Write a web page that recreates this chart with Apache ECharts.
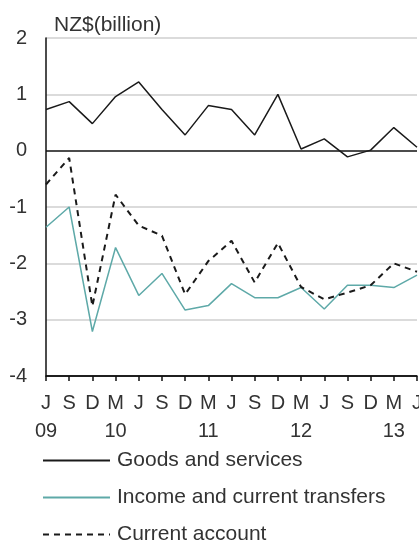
<!DOCTYPE html>
<html>
<head>
<meta charset="utf-8">
<script src="https://cdn.jsdelivr.net/npm/echarts@6/dist/echarts.min.js"></script>
<style>
  html, body { margin: 0; padding: 0; background: #fff; }
  #chart { width: 419px; height: 542px; }
</style>
</head>
<body>
<div id="chart"></div>
<script>
// Quarterly balance components, NZ$ billion, June 2009 to June 2013
const months = ['J', 'S', 'D', 'M', 'J', 'S', 'D', 'M', 'J', 'S', 'D', 'M', 'J', 'S', 'D', 'M', 'J'];
const years  = ['09', '', '', '10', '', '', '', '11', '', '', '', '12', '', '', '', '13', ''];
const goodsAndServices = [0.73, 0.87, 0.48, 0.96, 1.22, 0.73, 0.28, 0.80, 0.73, 0.28, 1.00, 0.03, 0.21, -0.11, 0.01, 0.41, 0.06];
const incomeAndTransfers = [-1.36, -1.00, -3.21, -1.72, -2.57, -2.18, -2.83, -2.75, -2.36, -2.61, -2.61, -2.43, -2.81, -2.39, -2.39, -2.43, -2.21];
const currentAccount = [-0.60, -0.13, -2.76, -0.78, -1.33, -1.51, -2.55, -1.96, -1.60, -2.34, -1.64, -2.42, -2.64, -2.52, -2.39, -2.00, -2.15];
const yTicks = { min: -4, max: 2, step: 1 };

const categories = months.map((m, i) => i);
const font = 'Liberation Sans, Arial, sans-serif';

const chart = echarts.init(document.getElementById('chart'), null, { renderer: 'canvas' });
chart.setOption({
  animation: false,
  backgroundColor: '#ffffff',
  textStyle: { fontFamily: font },
  title: {
    text: 'NZ$(billion)',
    left: 54,
    top: 15,
    padding: 0,
    textStyle: { fontFamily: font, fontSize: 21, fontWeight: 'normal', color: '#333' }
  },
  grid: { left: 46, right: 2, top: 38, bottom: 166, containLabel: false, outerBoundsMode: 'none' },
  xAxis: {
    type: 'category',
    data: categories,
    boundaryGap: false,
    axisLine: { onZero: false, lineStyle: { color: '#111', width: 1.5 } },
    axisTick: { show: true, interval: 0, length: 5, lineStyle: { color: '#111', width: 1.5 } },
    axisLabel: {
      interval: 0,
      margin: 13,
      fontSize: 20,
      lineHeight: 28,
      color: '#333',
      fontFamily: font,
      formatter: (v, i) => months[i] + '\n' + years[i]
    },
    splitLine: { show: false }
  },
  yAxis: {
    type: 'value',
    min: yTicks.min,
    max: yTicks.max,
    interval: yTicks.step,
    axisLine: { show: true, lineStyle: { color: '#111', width: 1.5 } },
    axisTick: { show: false },
    axisLabel: { fontSize: 20, color: '#333', margin: 19, fontFamily: font },
    splitLine: {
      show: true,
      lineStyle: {
        // one colour per gridline from -4 up to 2; the zero line is black
        color: ['#111', '#cfcfcf', '#cfcfcf', '#cfcfcf', '#111', '#cfcfcf', '#cfcfcf'],
        width: 1.5
      }
    }
  },
  legend: {
    orient: 'vertical',
    left: 42,
    top: 450,
    height: 120,
    padding: 0,
    itemWidth: 67,
    itemHeight: 2,
    itemGap: 16,
    itemStyle: { opacity: 0 },
    textStyle: { fontSize: 21, lineHeight: 20, color: '#333', fontFamily: font, padding: [0, 0, 0, 2] },
    data: ['Goods and services', 'Income and current transfers', 'Current account']
  },
  series: [
    {
      name: 'Goods and services',
      type: 'line',
      data: goodsAndServices,
      symbol: 'none',
      lineStyle: { color: '#1a1a1a', width: 1.5 },
      itemStyle: { color: '#1a1a1a' }
    },
    {
      name: 'Income and current transfers',
      type: 'line',
      data: incomeAndTransfers,
      symbol: 'none',
      lineStyle: { color: '#5ea9a8', width: 1.5 },
      itemStyle: { color: '#5ea9a8' }
    },
    {
      name: 'Current account',
      type: 'line',
      data: currentAccount,
      symbol: 'none',
      lineStyle: { color: '#1a1a1a', width: 2, type: [6, 5] },
      itemStyle: { color: '#1a1a1a' }
    }
  ]
});
</script>
</body>
</html>
